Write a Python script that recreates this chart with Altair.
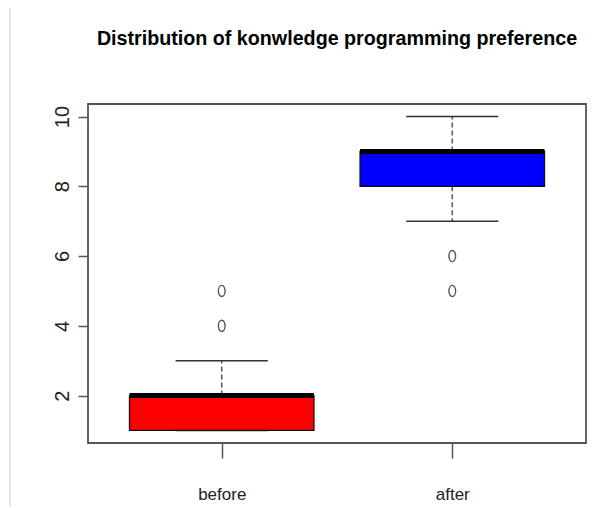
import altair as alt
import pandas as pd

# ---- data ----
groups = ["before", "after"]
q1 = [1, 8]
medians = [2, 9]
q3 = [2, 9]
lower_whisker = [1, 7]
upper_whisker = [3, 10]
outlier_groups = ["before", "before", "after", "after"]
outlier_values = [4, 5, 6, 5]
box_colors = ["#FF0000", "#0000FF"]
y_ticks = [2, 4, 6, 8, 10]
title_text = "Distribution of konwledge programming preference"

# ---- tables built from the arrays ----
stats = pd.DataFrame({
    "group": groups,
    "pos": list(range(1, len(groups) + 1)),
    "q1": q1,
    "median": medians,
    "q3": q3,
    "lo": lower_whisker,
    "hi": upper_whisker,
})
outliers = pd.DataFrame({
    "group": outlier_groups,
    "pos": [groups.index(g) + 1 for g in outlier_groups],
    "value": outlier_values,
})

label_expr = " : ".join(
    [f"datum.value == {i + 1} ? '{g}'" for i, g in enumerate(groups[:-1])] + [f"'{groups[-1]}'"]
)

SANS = "Liberation Sans, Arial, sans-serif"

xs = alt.Scale(domain=[0.42, 2.58], nice=False, zero=False)
ys = alt.Scale(domain=[0.64, 10.36], nice=False, zero=False)

xaxis = alt.Axis(values=[1, 2], labelExpr=label_expr, title=None, grid=False, domain=False,
                 tickSize=15, tickColor="#555", tickWidth=1.5,
                 labelFont=SANS, labelFontSize=17, labelColor="#222",
                 labelPadding=28, labelBaseline="top")
yaxis = alt.Axis(values=y_ticks, title=None, grid=False, domain=False,
                 tickSize=10, tickColor="#555", tickWidth=1.5,
                 labelFont=SANS, labelFontSize=20,
                 labelColor="#222", labelAngle=270, labelAlign="center",
                 labelBaseline="bottom", labelPadding=6)

base = alt.Chart(stats).transform_calculate(
    x_lo="datum.pos - 0.4", x_hi="datum.pos + 0.4",
    c_lo="datum.pos - 0.2", c_hi="datum.pos + 0.2",
)

whisk_up = base.mark_rule(color="#555", strokeWidth=1.5, strokeDash=[5, 3]).encode(
    x=alt.X("pos:Q", scale=xs, axis=xaxis),
    y=alt.Y("q3:Q", scale=ys, axis=yaxis),
    y2="hi:Q",
)
whisk_lo = base.mark_rule(color="#555", strokeWidth=1.5, strokeDash=[5, 3]).encode(
    x=alt.X("pos:Q", scale=xs, axis=xaxis),
    y=alt.Y("q1:Q", scale=ys, axis=yaxis),
    y2="lo:Q",
)
cap_up = base.mark_rule(color="#333", strokeWidth=1.6).encode(
    x=alt.X("c_lo:Q", scale=xs, axis=xaxis), x2="c_hi:Q",
    y=alt.Y("hi:Q", scale=ys, axis=yaxis),
)
cap_lo = base.mark_rule(color="#333", strokeWidth=1.6).encode(
    x=alt.X("c_lo:Q", scale=xs, axis=xaxis), x2="c_hi:Q",
    y=alt.Y("lo:Q", scale=ys, axis=yaxis),
)
box = base.mark_rect(stroke="#111", strokeWidth=1.3).encode(
    x=alt.X("x_lo:Q", scale=xs, axis=xaxis), x2="x_hi:Q",
    y=alt.Y("q1:Q", scale=ys, axis=yaxis), y2="q3:Q",
    color=alt.Color("group:N", scale=alt.Scale(domain=groups, range=box_colors), legend=None),
)
med = base.mark_rule(color="#000", strokeWidth=5).encode(
    x=alt.X("x_lo:Q", scale=xs, axis=xaxis), x2="x_hi:Q",
    y=alt.Y("median:Q", scale=ys, axis=yaxis),
)
ellipse = "M0,-1A0.6,1,0,1,1,0,1A0.6,1,0,1,1,0,-1Z"
pts = alt.Chart(outliers).mark_point(shape=ellipse, size=125, filled=False,
                                     color="#555", strokeWidth=1.4, opacity=1).encode(
    x=alt.X("pos:Q", scale=xs, axis=xaxis),
    y=alt.Y("value:Q", scale=ys, axis=yaxis),
)
edge = alt.Chart(pd.DataFrame({"a": [0]})).mark_rule(color="#d0d0d0", strokeWidth=1).encode(
    x=alt.value(-78), y=alt.value(-96), y2=alt.value(404),
)

chart = alt.layer(edge, whisk_up, whisk_lo, cap_up, cap_lo, box, med, pts).properties(
    width=498, height=339,
    title=alt.TitleParams(title_text, anchor="middle", frame="group", offset=-57,
                          baseline="alphabetic", font=SANS,
                          fontSize=19.7, fontWeight="bold", color="#000"),
    autosize=alt.AutoSizeParams(type="none"),
    padding={"left": 80, "top": 96, "right": 20, "bottom": 64},
).configure_view(stroke="#555", strokeWidth=1.8)

chart.save("out.html", embed_options={"renderer": "svg", "actions": False})
